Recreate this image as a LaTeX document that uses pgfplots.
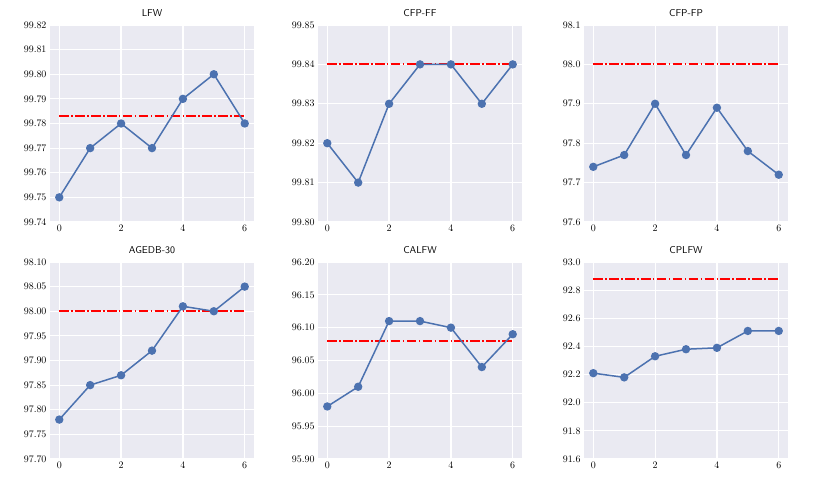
\documentclass[border=0pt]{standalone}
\usepackage{pgfplots}
\pgfplotsset{compat=1.18}
\definecolor{sbbg}{HTML}{EAEAF2}
\definecolor{sbblue}{HTML}{4C72B0}
\pgfplotsset{
  sb/.style={
    scale only axis, width=204bp, height=197bp,
    anchor=north west,
    xmin=-0.3, xmax=6.3, xtick={0,2,4,6},
    axis background/.style={fill=sbbg},
    axis line style={draw=none},
    tick style={draw=none},
    grid=major, major grid style={white, line width=1.2bp},
    title style={font=\sffamily, yshift=-1bp},
    tick label style={font=\normalsize},
    yticklabel style={/pgf/number format/.cd, fixed, fixed zerofill, precision=2},
    xticklabel style={/pgf/number format/.cd, fixed, precision=0},
  },
  blu/.style={color=sbblue, line width=1.5bp, mark=*, mark size=3.4bp, mark options={solid, fill=sbblue, draw=sbblue}},
  red/.style={color=red, line width=1.9bp, dash pattern=on 9.6bp off 2.4bp on 1.5bp off 2.4bp, no marks},
}
\begin{document}
\begin{tikzpicture}[x=1bp,y=1bp]
\useasboundingbox (0,0) rectangle (830,485);
% Row 1
\begin{axis}[sb, at={(50bp,460bp)}, title={LFW}, ymin=99.74, ymax=99.82, ytick={99.74,99.75,...,99.825}]
\addplot[red] coordinates {(0,99.783) (6,99.783)};
\addplot[blu] coordinates {(0,99.75) (1,99.77) (2,99.78) (3,99.77) (4,99.79) (5,99.80) (6,99.78)};
\end{axis}
\begin{axis}[sb, at={(318bp,460bp)}, title={CFP-FF}, ymin=99.80, ymax=99.85, ytick={99.80,99.81,99.82,99.83,99.84,99.85}]
\addplot[red] coordinates {(0,99.84) (6,99.84)};
\addplot[blu] coordinates {(0,99.82) (1,99.81) (2,99.83) (3,99.84) (4,99.84) (5,99.83) (6,99.84)};
\end{axis}
\begin{axis}[sb, at={(584bp,460bp)}, title={CFP-FP}, ymin=97.6, ymax=98.1, ytick={97.6,97.7,97.8,97.9,98.0,98.1},
  yticklabel style={/pgf/number format/.cd, fixed, fixed zerofill, precision=1}]
\addplot[red] coordinates {(0,98.0) (6,98.0)};
\addplot[blu] coordinates {(0,97.74) (1,97.77) (2,97.90) (3,97.77) (4,97.89) (5,97.78) (6,97.72)};
\end{axis}
% Row 2
\begin{axis}[sb, at={(50bp,223bp)}, title={AGEDB-30}, ymin=97.70, ymax=98.10, ytick={97.70,97.75,97.80,97.85,97.90,97.95,98.00,98.05,98.10}]
\addplot[red] coordinates {(0,98.0) (6,98.0)};
\addplot[blu] coordinates {(0,97.78) (1,97.85) (2,97.87) (3,97.92) (4,98.01) (5,98.00) (6,98.05)};
\end{axis}
\begin{axis}[sb, at={(318bp,223bp)}, title={CALFW}, ymin=95.90, ymax=96.20, ytick={95.90,95.95,96.00,96.05,96.10,96.15,96.20}]
\addplot[red] coordinates {(0,96.08) (6,96.08)};
\addplot[blu] coordinates {(0,95.98) (1,96.01) (2,96.11) (3,96.11) (4,96.10) (5,96.04) (6,96.09)};
\end{axis}
\begin{axis}[sb, at={(584bp,223bp)}, title={CPLFW}, ymin=91.6, ymax=93.0, ytick={91.6,91.8,92.0,92.2,92.4,92.6,92.8,93.0},
  yticklabel style={/pgf/number format/.cd, fixed, fixed zerofill, precision=1}]
\addplot[red] coordinates {(0,92.88) (6,92.88)};
\addplot[blu] coordinates {(0,92.21) (1,92.18) (2,92.33) (3,92.38) (4,92.39) (5,92.51) (6,92.51)};
\end{axis}
\end{tikzpicture}
\end{document}
